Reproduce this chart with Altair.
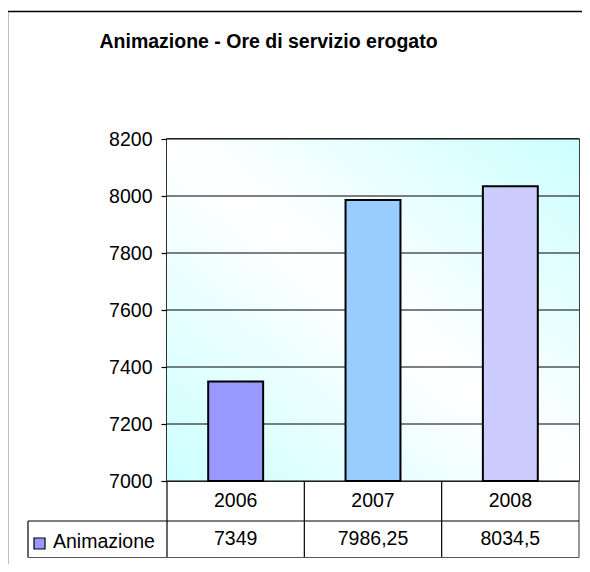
import altair as alt
import pandas as pd

# ---- data ----
years = ["2006", "2007", "2008"]
values = [7349, 7986.25, 8034.5]
value_labels = ["7349", "7986,25", "8034,5"]
bar_colors = ["#9999FF", "#99CCFF", "#CCCCFF"]
y_ticks = [7000, 7200, 7400, 7600, 7800, 8000, 8200]
series_name = "Animazione"
title_text = "Animazione - Ore di servizio erogato"

W, H = 412, 342
FONT = "Liberation Sans"
FS = 19.5

df = pd.DataFrame({"year": years, "value": values, "label": value_labels})
ticks_df = pd.DataFrame({"tick": y_ticks})
one = pd.DataFrame({"k": [0]})

xs = alt.Scale(domain=years, paddingInner=0, paddingOuter=0)
ys = alt.Scale(domain=[7000, 8200], nice=False, zero=False)
yaxis = alt.Axis(values=y_ticks, title=None, grid=False, tickSize=6,
                 labelPadding=9, labelFontSize=FS, labelFont=FONT,
                 labelColor="black", domainColor="black", tickColor="black",
                 domainWidth=1.5, tickWidth=1.2, format="d")

grad = alt.Gradient(
    gradient="linear",
    stops=[alt.GradientStop(color="#CCFFFF", offset=0),
           alt.GradientStop(color="#FFFFFF", offset=0.5),
           alt.GradientStop(color="#CCFFFF", offset=1)],
    x1=0, y1=1, x2=1, y2=0)

bg = alt.Chart(one).mark_rect(fill=grad).encode(
    x=alt.value(0), x2=alt.value(W), y=alt.value(0), y2=alt.value(H))

grid = alt.Chart(ticks_df).mark_rule(color="black", strokeWidth=1).encode(
    y=alt.Y("tick:Q", scale=ys, axis=yaxis),
    x=alt.value(0), x2=alt.value(W))

bars = alt.Chart(df).mark_bar(width=alt.RelativeBandSize(0.4), stroke="black",
                              strokeWidth=2).encode(
    x=alt.X("year:N", scale=xs, axis=None, sort=years),
    y=alt.Y("value:Q", scale=ys, axis=yaxis),
    y2=alt.datum(7000),
    color=alt.Color("year:N", scale=alt.Scale(domain=years, range=bar_colors),
                    legend=None))

year_txt = alt.Chart(df).mark_text(fontSize=FS, font=FONT, color="black",
                                   baseline="middle").encode(
    x=alt.X("year:N", scale=xs, axis=None, sort=years),
    y=alt.value(362), text="year:N")

val_txt = alt.Chart(df).mark_text(fontSize=FS, font=FONT, color="black",
                                  baseline="middle").encode(
    x=alt.X("year:N", scale=xs, axis=None, sort=years),
    y=alt.value(400), text="label:N")

leg_box = alt.Chart(one).mark_rect(fill=bar_colors[0], stroke="black",
                                   strokeWidth=1.2).encode(
    x=alt.value(-133), x2=alt.value(-122), y=alt.value(399), y2=alt.value(410))

leg_txt = alt.Chart(one).mark_text(fontSize=FS, font=FONT, color="black",
                                   align="left", baseline="middle").encode(
    x=alt.value(-114), y=alt.value(403), text=alt.value(series_name))

title = alt.Chart(one).mark_text(fontSize=19.5, font=FONT, fontWeight="bold",
                                 color="black", align="center",
                                 baseline="middle").encode(
    x=alt.value(101.5), y=alt.value(-97), text=alt.value(title_text))


def vline(x, y1, y2, w=1.2, c="black"):
    return alt.Chart(one).mark_rule(color=c, strokeWidth=w).encode(
        x=alt.value(x), y=alt.value(y1), y2=alt.value(y2))


def hline(y, x1, x2, w=1.2, c="black"):
    return alt.Chart(one).mark_rule(color=c, strokeWidth=w).encode(
        y=alt.value(y), x=alt.value(x1), x2=alt.value(x2))


step = W / 3
lines = [
    vline(0, H, 418.5), vline(step, H, 418.5), vline(2 * step, H, 418.5),
    vline(W, H, 418.5, c="#555555"), vline(-139, 382, 418.5),
    hline(382, -139, W), hline(418.5, -139, W, c="#555555"),
    vline(-159.5, -127.5, 440, w=1.5), hline(-127.5, -159.5, 440, w=1.5),
]

chart = alt.layer(bg, grid, bars, year_txt, val_txt, leg_box, leg_txt, title,
                  *lines).properties(
    width=W, height=H,
    padding={"left": 159, "top": 131, "right": 3, "bottom": 83},
    autosize=alt.AutoSizeParams(type="none"),
    background="white",
).configure_view(stroke="black", strokeWidth=1.5)

chart.save("out.html", embed_options={"renderer": "svg", "actions": False})
